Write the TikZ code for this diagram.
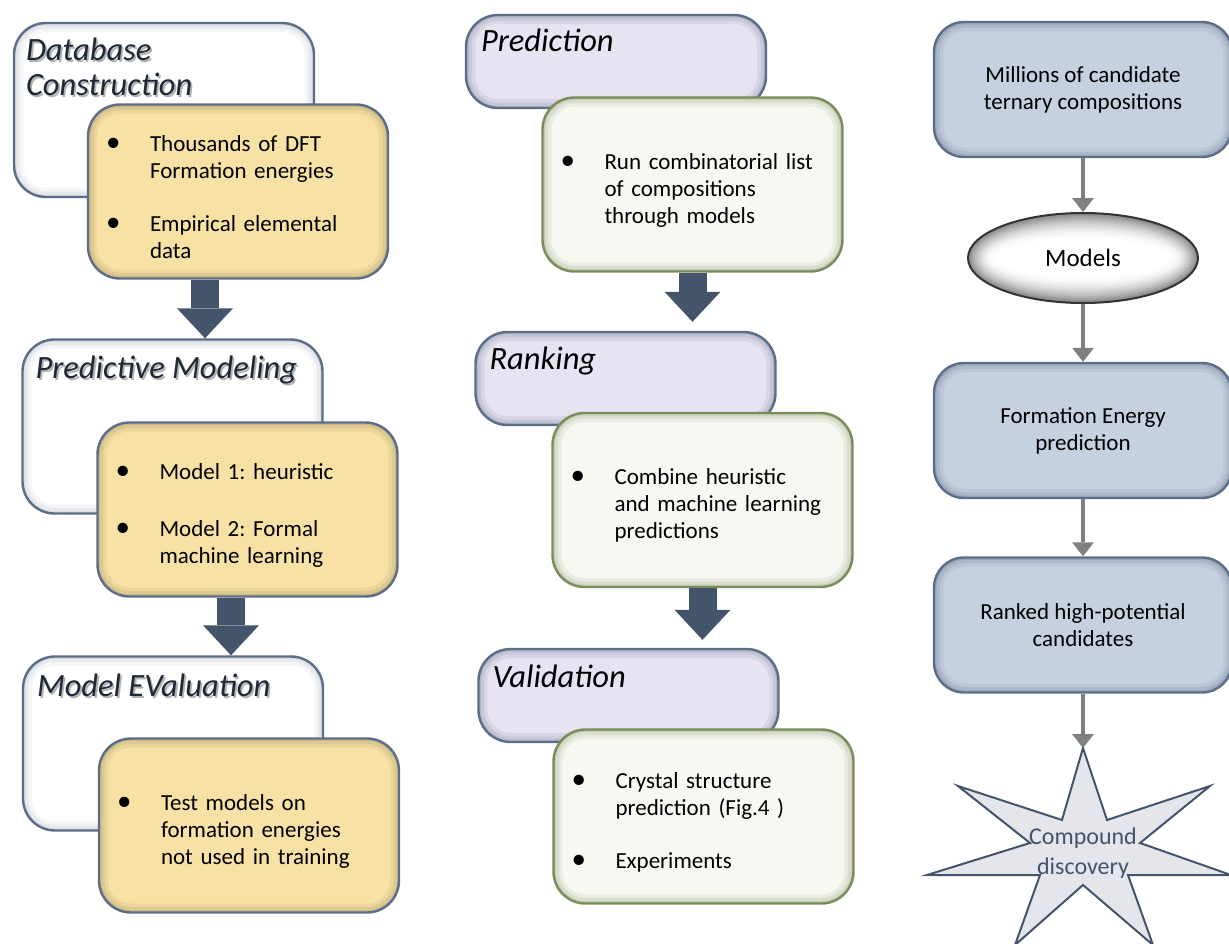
\documentclass[tikz,border=0pt]{standalone}
\usepackage{fontspec}
\setmainfont{Carlito}
\usetikzlibrary{arrows.meta,shapes.geometric}

\definecolor{slate}{HTML}{44546A}
\definecolor{bdr}{HTML}{5C6D88}
\definecolor{yelw}{HTML}{F8E1A4}
\definecolor{lav}{HTML}{E7E3F0}
\definecolor{grnfill}{HTML}{F6F8F1}
\definecolor{grnbdr}{HTML}{7A8C5B}
\definecolor{bluefill}{HTML}{C6D1DF}
\definecolor{ttlink}{HTML}{1E2836}
\definecolor{starfill}{HTML}{E4E6EC}

\newcommand{\boxfont}{\fontsize{23}{27}\selectfont\frenchspacing}
\newcommand{\stagefont}{\fontsize{32.5}{35}\selectfont\itshape}
% bullet line with hanging indent
\newcommand{\itm}[1]{\par\hangindent=52pt\hangafter=1\noindent
  \makebox[52pt][l]{\hspace{8pt}{\fontsize{29}{27}\selectfont\textbullet}}#1\par}
% title text with a soft drop shadow
\newcommand{\shd}[1]{\makebox[0pt][l]{\hspace{1.8pt}\raisebox{-1.8pt}{\textcolor{black!30}{#1}}}#1}

\tikzset{
  innerglow/.style={path picture={
      \foreach \w/\o in {18/.10,11/.14,5/.2}
        \draw[#1, line width=\w pt, opacity=\o, rounded corners=32pt]
          (path picture bounding box.south west) rectangle (path picture bounding box.north east);}},
  % stepped gray-to-white fill for the ellipse
  ovalglow/.style={path picture={
      \foreach \k in {0,...,14}{
        \pgfmathsetmacro{\rx}{116-2*\k}
        \pgfmathsetmacro{\ry}{46-2*\k}
        \pgfmathsetmacro{\c}{50*(1-\k/14)^2}
        \fill[black!\c] (path picture bounding box.center) ellipse ({\rx pt} and {\ry pt});}}},
  card/.style={rectangle, rounded corners=32pt, line width=2.4pt, minimum width=300pt,
    minimum height=174pt, inner sep=0pt},
  ttlbox/.style={card, draw=bdr, fill=white, innerglow=bdr!60},
  itembox/.style={card, draw=bdr, fill=yelw, innerglow=black!45!yelw, text width=280pt,
    align=left, font=\boxfont},
  lavbox/.style={card, minimum height=93pt, draw=bdr, fill=lav, innerglow=bdr},
  grnbox/.style={card, draw=grnbdr, fill=grnfill, innerglow=grnbdr, text width=280pt,
    align=left, font=\boxfont},
  bluebox/.style={card, rounded corners=30pt, minimum width=298pt, minimum height=135pt,
    draw=bdr, fill=bluefill, innerglow=bdr, align=center, font=\boxfont},
  ttltext/.style={anchor=base west, inner sep=0pt, align=left, font=\stagefont},
  bigarrow/.style={draw=slate, line width=28pt, -{Triangle[width=56pt,length=30pt,line width=0pt]}},
  thinarrow/.style={draw=black!50, line width=3.5pt, -{Triangle[width=22pt,length=14pt,line width=0pt]}}
}

\begin{document}
\begin{tikzpicture}[x=1pt, y=-1pt]
  \useasboundingbox (0,0) rectangle (1229,943);

  % left column: database, modeling, evaluation
  \node[ttlbox] (dbbox) at (164,110) {};
  \node[ttltext, text=ttlink] (dbname) at ([shift={(13,74)}]dbbox.north west)
    {\shd{Database}\\\shd{Construction}};
  \node[itembox] (dbitems) at (238,191.5)
    {\itm{Thousands of DFT\newline Formation energies}\vspace{26pt}\itm{Empirical elemental\newline data}};

  \node[ttlbox] (pmbox) at (172.5,426.5) {};
  \node[ttltext, text=ttlink] (pmname) at ([shift={(14,40)}]pmbox.north west)
    {\shd{Predictive Modeling}};
  \node[itembox] (pmitems) at (247.5,509.5)
    {\itm{Model 1: heuristic}\vspace{30pt}\itm{Model 2: Formal\newline machine learning}};

  \node[ttlbox] (evbox) at (173,743.5) {};
  \node[ttltext, text=ttlink] (evname) at ([shift={(15,41)}]evbox.north west)
    {\shd{Model EValuation}};
  \node[itembox] (evitems) at (249,825.5)
    {\itm{Test models on\newline formation energies\newline not used in training}};

  \coordinate (ax1) at (205,0);
  \coordinate (ax2) at (231,0);
  \draw[bigarrow] (dbitems.south -| ax1) -- (pmbox.north -| ax1);
  \draw[bigarrow] (pmitems.south -| ax2) -- (evbox.north -| ax2);

  % middle column: prediction, ranking, validation
  \node[lavbox] (prbox) at (616,61.5) {};
  \node[ttltext] (prname) at ([shift={(16,38)}]prbox.north west) {Prediction};
  \node[grnbox] (pritems) at (692.5,184.5)
    {\itm{Run combinatorial list\newline of compositions\newline through models}};

  \node[lavbox] (rkbox) at (625.5,378.5) {};
  \node[ttltext] (rkname) at ([shift={(15,39)}]rkbox.north west) {Ranking};
  \node[grnbox] (rkitems) at (702.5,500)
    {\itm{Combine heuristic\newline and machine learning\newline predictions}};

  \node[lavbox] (vabox) at (628.5,695.5) {};
  \node[ttltext] (vaname) at ([shift={(15,40)}]vabox.north west) {Validation};
  \node[grnbox] (vaitems) at (703.5,816.5)
    {\itm{Crystal structure\newline prediction (Fig.4 )}\vspace{26pt}\itm{Experiments}};

  \draw[bigarrow, shorten >=9pt] (pritems.south) -- (pritems.south |- rkbox.north);
  \draw[bigarrow, shorten >=8pt] (rkitems.south) -- (rkitems.south |- vabox.north);

  % right column: screening pipeline
  \node[bluebox] (cands) at (1083,89.5) {Millions of candidate\\ternary compositions};
  \node[ellipse, draw=black!80, line width=2pt, minimum width=230pt, minimum height=90pt,
    ovalglow, font=\fontsize{25}{28}\selectfont]
    (models) at (1083,258) {Models};
  \node[bluebox] (feng) at (1083,430.5) {Formation Energy\\prediction};
  \node[bluebox] (ranked) at (1083,625) {Ranked high-potential\\candidates};

  % star
  \draw[fill=starfill, draw=slate, line width=2pt, line join=miter]
    (1083,748) -- (1107,820) -- (1210,786) -- (1140,843) -- (1231,875) -- (1128,875)
    -- (1153,945) -- (1083,885) -- (1015,945) -- (1040,875) -- (927,875) -- (1030,843)
    -- (958,786) -- (1062,820) -- cycle;
  \coordinate (startop) at (1083,748);
  \node[align=center, text=slate, font=\fontsize{24}{30}\selectfont] (cmpd) at (1083,853)
    {Compound\\discovery};

  \draw[thinarrow] (cands) -- (models);
  \draw[thinarrow] (models) -- (feng);
  \draw[thinarrow] (feng) -- (ranked);
  \draw[thinarrow] (ranked) -- (startop);
\end{tikzpicture}
\end{document}
